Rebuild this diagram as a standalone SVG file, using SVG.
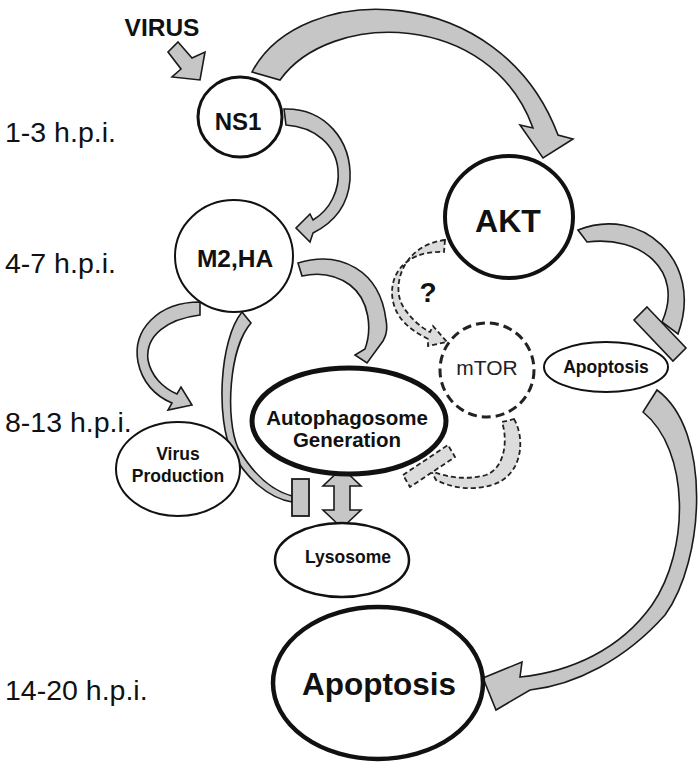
<svg xmlns="http://www.w3.org/2000/svg" width="700" height="773" viewBox="0 0 700 773">
<style>
.lbl{font-family:"Liberation Sans",Arial,sans-serif;font-size:28.5px;fill:#111}
.t{font-family:"Liberation Sans",Arial,sans-serif;font-weight:bold;fill:#111;text-anchor:middle}
.node{fill:#fff;stroke:#111}
.arr{fill:#c6c6c6;stroke:#1a1a1a;stroke-width:1.6;stroke-linejoin:miter}
.dash{fill:#dcdcdc;stroke:#222;stroke-width:1.8;stroke-dasharray:5 3}
</style>
<rect width="700" height="773" fill="#fff"/>
<g id="timeline">
<text class="lbl" x="5" y="142">1-3 h.p.i.</text>
<text class="lbl" x="5" y="273">4-7 h.p.i.</text>
<text class="lbl" x="5" y="432">8-13 h.p.i.</text>
<text class="lbl" x="5" y="700">14-20 h.p.i.</text>
</g>
<g id="connectors">
<!-- VIRUS arrow -->
<polygon class="arr" points="178,42 192,58 205,52 200,80 172,77 181,69 168,52"/>
<!-- NS1 -> AKT -->
<path class="arr" d="M252,72 C300,-20 500,-20 558,135 L573,139 L543,158 L520,125 L533,128 C490,10 330,10 280,80 Z"/>
<!-- NS1 -> M2,HA -->
<path class="arr" d="M284,109 C325,108 352,140 350,180 C348,205 335,222 313,233 L310,242 L296,228 L310,214 L313,220 C330,210 340,190 338,170 C336,145 315,127 286,125 Z"/>
<!-- M2,HA -> Virus Production -->
<path class="arr" d="M200,302 C158,302 132,330 138,362 C142,382 155,396 172,403 L168,410 L192,405 L181,387 L177,394 C163,388 151,376 148,360 C145,335 168,319 200,315 Z"/>
<!-- M2,HA -> Autophagosome -->
<path class="arr" d="M298,263 C340,250 380,270 386,320 C388,330 386,336 383,341 L367,363 L355,355 L365,349 C372,330 370,300 350,285 C335,274 320,272 302,276 Z"/>
<!-- M2,HA inhibits -->
<path class="arr" d="M242,312 C219,340 216,420 232,452 C246,478 268,498 292,502 L292,496 C270,490 252,472 238,448 C225,418 229,348 251,323 Z"/>
<rect x="292" y="479" width="17" height="37" fill="#c6c6c6" stroke="#1a1a1a" stroke-width="1.8"/>
<!-- Autophagosome <-> Lysosome -->
<polygon class="arr" points="342,468 361,486 350,486 350,510 361,510 342,528 323,510 334,510 334,486 323,486"/>
<!-- AKT inhibits Apoptosis -->
<path class="arr" d="M578,230 C640,205 705,260 678,334 L662,322 C685,270 640,235 587,242 Z"/>
<polygon class="arr" points="647,307 686,348 673,361 634,320"/>
<!-- Apoptosis -> Apoptosis -->
<path class="arr" d="M657,390 C712,430 705,560 665,615 C625,660 575,685 530,690 L496,710 L483,678 L522,662 L520,677 C570,672 620,650 652,605 C690,550 690,450 643,412 Z"/>
<!-- AKT -> mTOR dashed -->
<path class="dash" d="M445,240 C402,245 390,288 404,308 C412,320 422,328 430,332 L433,326 L447,342 L428,346 L428,339 C414,332 400,322 395,308 C385,282 400,250 444,252 Z"/>
<!-- mTOR inhibits Autophagosome dashed -->
<path class="dash" d="M514,419 C526,440 522,476 492,485 C472,491 452,488 436,480 L431,471 C448,478 468,480 486,475 C505,468 508,440 502,422 Z"/>
<polygon class="dash" points="403,475 448,445 455,457 410,487"/>
</g>
<g id="virus"><text class="t" x="162" y="36" font-size="24.5">VIRUS</text></g>
<g id="ns1"><ellipse class="node" cx="240" cy="117" rx="42" ry="40" stroke-width="3"/><text class="t" x="238" y="130" font-size="24">NS1</text></g>
<g id="m2ha"><ellipse class="node" cx="234" cy="256" rx="59" ry="56" stroke-width="2"/><text class="t" x="235" y="267" font-size="24.5">M2,HA</text></g>
<g id="akt"><ellipse class="node" cx="509" cy="217" rx="64" ry="61" stroke-width="4"/><text class="t" x="508" y="232" font-size="32">AKT</text></g>
<g id="mtor"><circle cx="487" cy="370" r="47" fill="#fff" stroke="#222" stroke-width="3" stroke-dasharray="9 5"/><text x="487" y="375" font-family="Liberation Sans,Arial,sans-serif" font-size="21" fill="#222" text-anchor="middle">mTOR</text></g>
<g id="apoptosis-small"><ellipse class="node" cx="606" cy="367" rx="62" ry="25" stroke-width="2"/><text class="t" x="606" y="373" font-size="17.5">Apoptosis</text></g>
<g id="autophagosome"><ellipse class="node" cx="349" cy="421" rx="97" ry="53" stroke-width="5" stroke="#222"/><text class="t" x="347" y="425" font-size="20.5">Autophagosome</text><text class="t" x="347" y="447" font-size="20.5">Generation</text></g>
<g id="virus-production"><ellipse class="node" cx="178" cy="469" rx="62" ry="47" stroke-width="2"/><text class="t" x="178" y="460" font-size="17.5">Virus</text><text class="t" x="178" y="482" font-size="17.5">Production</text></g>
<g id="lysosome"><ellipse class="node" cx="342" cy="560" rx="67" ry="37" stroke-width="2.5"/><text class="t" x="348" y="563" font-size="17.5">Lysosome</text></g>
<g id="apoptosis-big"><ellipse class="node" cx="378" cy="683" rx="105" ry="76" stroke-width="4.5" stroke="#222"/><text class="t" x="379" y="695" font-size="31.5">Apoptosis</text></g>
<g id="question"><text class="t" x="428" y="302" font-size="28">?</text></g>
</svg>
